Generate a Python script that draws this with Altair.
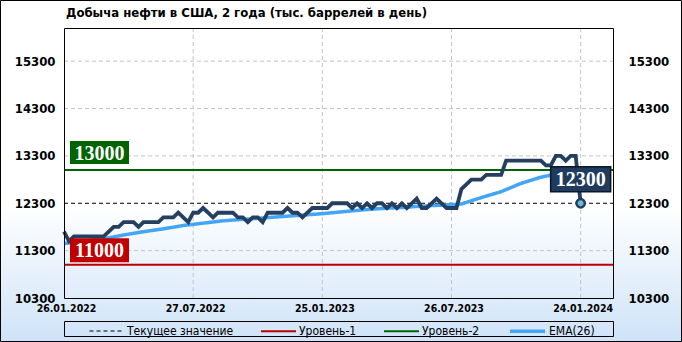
import altair as alt
import pandas as pd

# ---------------- data ----------------
TITLE = "Добыча нефти  в США, 2 года (тыс. баррелей в день)"
start_date = "2022-01-26"          # weekly points, every 7 days
production = [
    11700, 11500, 11600, 11600, 11600, 11600, 11600, 11600, 11600, 11700,
    11800, 11800, 11900, 11900, 11900, 11800, 11900, 11900, 11900, 11900,
    12000, 12000, 12000, 12100, 12000, 11900, 12100, 12100, 12200, 12100,
    12000, 12100, 12100, 12100, 12100, 12000, 12000, 11900, 12000, 12000,
    11900, 12100, 12100, 12100, 12100, 12200, 12100, 12100, 12000, 12100,
    12200, 12200, 12200, 12200, 12300, 12300, 12300, 12300, 12200, 12300,
    12200, 12300, 12200, 12300, 12300, 12200, 12300, 12200, 12300, 12200,
    12300, 12400, 12200, 12200, 12300, 12400, 12300, 12200, 12200, 12200,
    12600, 12700, 12800, 12800, 12800, 12900, 12900, 12900, 12900, 13200,
    13200, 13200, 13200, 13200, 13200, 13200, 13200, 13100, 13100, 13300,
    13300, 13200, 13300, 13300, 12300,
]
ema_step = 4                        # EMA read every 4th week
ema26 = [
    11450, 11500, 11550, 11630, 11700, 11760, 11830, 11880, 11930, 11960,
    11990, 12020, 12050, 12080, 12120, 12160, 12190, 12210, 12240, 12260,
    12285, 12420, 12545, 12720, 12850, 12940, 12960,
]
level_values = [11000, 13000]
level_names = ["Уровень-1", "Уровень-2"]
current_name = "Текущее значение"
ema_name = "EMA(26)"
legend_names = [current_name, "Уровень-1", "Уровень-2", ema_name]
y_ticks = [10300, 11300, 12300, 13300, 14300, 15300]
x_ticks = ["2022-01-26", "2022-07-27", "2023-01-25", "2023-07-26", "2024-01-24"]
y_domain = [10300, 16000]
x_domain = ["2022-01-26", "2024-03-11"]

# ---------------- styles ----------------
FONT = "DejaVu Sans Condensed"
SERIF = "Liberation Serif"
NAVY = "#243f60"
legend_colors = ["#000000", "#c00000", "#006400", "#42a5f5"]
legend_dashes = [[4, 3], [1, 0], [1, 0], [1, 0]]
legend_widths = [1, 2, 2, 3.5]
level_fills = ["#c00000", "#006400"]
W, H = 550, 270

# ---------------- tables ----------------
dates = pd.date_range(start_date, periods=len(production), freq="7D")
prod_df = pd.DataFrame({"date": dates, "value": production})
ema_df = pd.DataFrame({"date": dates[::ema_step], "value": ema26, "series": ema_name})
last_df = prod_df.tail(1).copy()
last_df["label"] = last_df["value"].astype(str)
current_value = production[-1]
current_df = pd.DataFrame({"value": [current_value], "series": [current_name]})
level_df = pd.DataFrame({"value": level_values, "series": level_names,
                         "label": [str(v) for v in level_values]})
hgrid_df = pd.DataFrame({"value": [v for v in y_ticks if v not in (y_domain[0], current_value)]})
vgrid_df = pd.DataFrame({"date": pd.to_datetime(x_ticks[1:])})
yticks_df = pd.DataFrame({"value": y_ticks})
one = pd.DataFrame({"k": [0]})


def dt(s):
    t = pd.Timestamp(s)
    return alt.DateTime(year=t.year, month=t.month, date=t.day)


x_scale = alt.Scale(domain=[dt(d) for d in x_domain])
y_scale = alt.Scale(domain=y_domain, nice=False, zero=False)
x_axis = alt.Axis(values=[dt(d) for d in x_ticks], format="%d.%m.%Y", title=None,
                  grid=False, ticks=False, domain=False, labelFlush=False,
                  labelOverlap=False, labelBound=False, labelPadding=5, labelOffset=2,
                  labelFont=FONT, labelFontSize=10.5, labelFontWeight="bold",
                  labelColor="black", zindex=1)
y_axis = alt.Axis(values=y_ticks, format="d", title=None, grid=False, ticks=False,
                  domain=False, labelPadding=9, labelFont=FONT, labelFontSize=13,
                  labelFontWeight="bold", labelColor="black", zindex=1)
y_axis_r = alt.Axis(values=y_ticks, format="d", title=None, grid=False, ticks=False,
                    domain=False, orient="right", labelPadding=14, labelFont=FONT,
                    labelFontSize=13, labelFontWeight="bold", labelColor="black", zindex=1)


def X(f="date"):
    return alt.X(f"{f}:T", scale=x_scale, axis=x_axis)


def Y():
    return alt.Y("value:Q", scale=y_scale, axis=y_axis)


leg = alt.Legend(title=None, orient="none", legendX=25, legendY=283.5,
                 direction="horizontal", symbolType="stroke", symbolSize=1225,
                 labelFont=FONT, labelFontSize=12, labelColor="black",
                 labelOffset=2, columnPadding=23, padding=0, zindex=2)
color_scale = alt.Scale(domain=legend_names, range=legend_colors)
dash_scale = alt.Scale(domain=legend_names, range=legend_dashes)
width_scale = alt.Scale(type="ordinal", domain=legend_names, range=legend_widths)
series_enc = dict(
    color=alt.Color("series:N", scale=color_scale, legend=leg),
    strokeDash=alt.StrokeDash("series:N", scale=dash_scale, legend=leg),
    strokeWidth=alt.StrokeWidth("series:O", scale=width_scale, legend=leg),
)

# ---------------- layers ----------------
background = alt.Chart(one).mark_rect(
    fill=alt.Gradient(gradient="linear", x1=0, x2=0, y1=0, y2=1,
                      stops=[alt.GradientStop(offset=0, color="#ffffff"),
                             alt.GradientStop(offset=0.6, color="#ffffff"),
                             alt.GradientStop(offset=1, color="#cfe3f8")]),
    stroke="black", strokeWidth=1,
).encode(x=alt.value(-63.5), x2=alt.value(617.5), y=alt.value(-27.5), y2=alt.value(313.5))

title_mark = alt.Chart(one).mark_text(
    text=TITLE, align="left", baseline="middle", font=FONT, fontSize=13,
    fontWeight="bold", color="black",
).encode(x=alt.value(2), y=alt.value(-15))

hgrid = alt.Chart(hgrid_df).mark_rule(color="#c4c4c4", strokeWidth=1, strokeDash=[4, 3]).encode(y=Y())
vgrid = alt.Chart(vgrid_df).mark_rule(color="#c4c4c4", strokeWidth=1, strokeDash=[4, 3]).encode(x=X())

current_rule = alt.Chart(current_df).mark_rule().encode(y=Y(), **series_enc)
level_rules = alt.Chart(level_df).mark_rule().encode(y=Y(), **series_enc)
ema_line = alt.Chart(ema_df).mark_line().encode(x=X(), y=Y(), **series_enc)
prod_line = alt.Chart(prod_df).mark_line(color=NAVY, strokeWidth=3.8).encode(x=X(), y=Y())

level_label_layers = []
box_offsets = [(-2.7, -26.7), (-6, -29)]      # pixel offsets of each box from its line
for i, (v, fillc) in enumerate(zip(level_values, level_fills)):
    d = level_df.iloc[[i]]
    lo, hi = box_offsets[i]
    level_label_layers.append(
        alt.Chart(d).mark_rect(fill=fillc, yOffset=lo, y2Offset=hi).encode(
            x=alt.value(6), x2=alt.value(65), y=Y(), y2=alt.Y2("value:Q")))
    level_label_layers.append(
        alt.Chart(d).mark_text(font=SERIF, fontSize=20, fontWeight="bold", color="white",
                               align="center", baseline="middle",
                               dy=(lo + hi) / 2 + 1).encode(
            x=alt.value(35.5), y=Y(), text="label:N"))

last_box = alt.Chart(last_df).mark_rect(
    fill="#1f3b5e", stroke="#0b1626", strokeWidth=1.5,
    xOffset=-30, x2Offset=30, yOffset=-11.5, y2Offset=-36.5,
).encode(x=X(), x2=alt.X2("date:T"), y=Y(), y2=alt.Y2("value:Q"))
last_text = alt.Chart(last_df).mark_text(
    font=SERIF, fontSize=20, fontWeight="bold", color="white", align="center",
    baseline="middle", dy=-23
).encode(x=X(), y=Y(), text="label:N")
last_point = alt.Chart(last_df).mark_circle(
    size=70, fill="#6bbbdc", stroke=NAVY, strokeWidth=2.5, opacity=1
).encode(x=X(), y=Y())

frame = alt.Chart(one).mark_rect(fill="transparent", stroke="black", strokeWidth=1).encode(
    x=alt.value(0.5), x2=alt.value(W - 0.5), y=alt.value(0.5), y2=alt.value(H + 0.5))
legend_box = alt.Chart(one).mark_rect(fill="transparent", stroke="black", strokeWidth=1).encode(
    x=alt.value(0.5), x2=alt.value(W - 0.5), y=alt.value(293.5), y2=alt.value(308.5))

main = alt.layer(
    background, title_mark, hgrid, vgrid, current_rule, level_rules, ema_line, prod_line,
    *level_label_layers, last_box, last_text, last_point, frame, legend_box,
)
right_axis = alt.Chart(yticks_df).mark_rule(opacity=0).encode(
    y=alt.Y("value:Q", scale=y_scale, axis=y_axis_r))

chart = alt.layer(main, right_axis).resolve_scale(y="independent").properties(
    width=W, height=H,
    padding={"left": 64, "top": 28, "right": 68, "bottom": 44},
    autosize=alt.AutoSizeParams(type="none"),
    background="white",
).configure_view(stroke="transparent")

chart.save("out.html", embed_options={"renderer": "svg", "actions": False})
